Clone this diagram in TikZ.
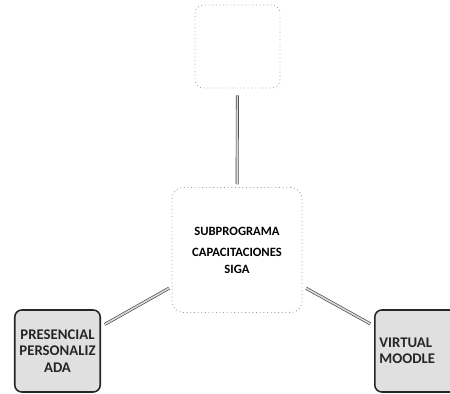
\documentclass[tikz,border=0pt]{standalone}
\usepackage{fontspec}
\setsansfont{Carlito}
\usetikzlibrary{positioning}

\begin{document}
\begin{tikzpicture}[x=0.025cm,y=-0.025cm,
  modbox/.style={draw=black!85, line width=1.1pt, rounded corners=5pt, fill=black!12,
    minimum width=2.125cm, minimum height=2.05cm, align=center,
    font=\sffamily\bfseries\fontsize{10.5}{11.5}\selectfont, text=black!85},
  faintbox/.style={draw=black!35, dotted, line width=0.6pt, rounded corners=6pt,
    minimum width=2.125cm, minimum height=2.075cm},
  centrebox/.style={draw=black!40, dotted, line width=0.6pt, rounded corners=8pt,
    minimum width=3.25cm, minimum height=3.125cm, align=center,
    font=\sffamily\bfseries\fontsize{9}{11.5}\selectfont},
  link/.style={draw=black!75, double=black!15, double distance=1.2pt, line width=0.45pt}]
\clip (0,0) rectangle (450,394);
\fill[white] (0,0) rectangle (450,394);
\node[faintbox] (seguimiento) at (237.5,46.5) {};
\node[centrebox] (subprograma) at (237,250) {SUBPROGRAMA\\[4pt]CAPACITACIONES\\SIGA};
\node[modbox] (presencial) at (57.5,351) {PRESENCIAL\\PERSONALIZ\\ADA};
\node[modbox, text width=2.0cm, align=left] (virtual) at (419.5,351) {VIRTUAL\\MOODLE\\[6pt]};
\draw[link, shorten <=5pt, shorten >=2pt] (seguimiento) -- (subprograma);
\draw[link, shorten <=3pt, shorten >=2pt] (presencial) -- (subprograma);
\draw[link, shorten <=3pt, shorten >=3pt] (subprograma) -- (virtual);
\end{tikzpicture}
\end{document}
